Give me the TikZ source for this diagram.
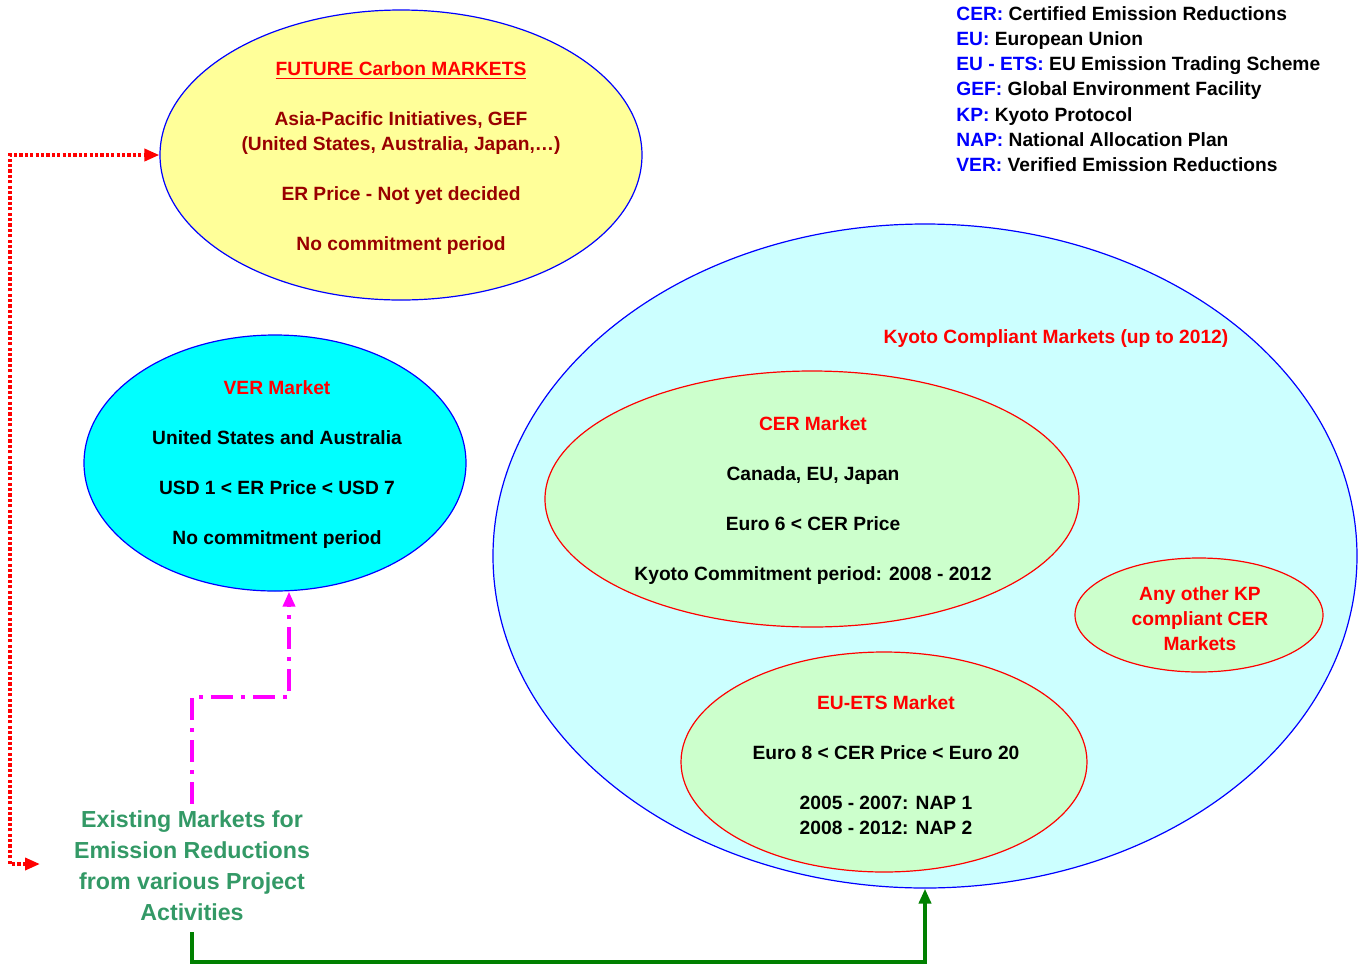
\documentclass[tikz,border=0pt]{standalone}
\usepackage{fontspec}
\setmainfont{Liberation Sans}
\usepackage{tikz}
\usetikzlibrary{shapes.geometric, arrows.meta, positioning}
\definecolor{futureyellow}{HTML}{FFFF99}
\definecolor{vercyan}{HTML}{00FFFF}
\definecolor{kyotocyan}{HTML}{CCFFFF}
\definecolor{cergreen}{HTML}{CCFFCC}
\definecolor{darkred}{HTML}{990000}
\definecolor{seagreen}{HTML}{339966}
\definecolor{arrowgreen}{HTML}{008000}
\definecolor{legendblue}{HTML}{0000FF}
\definecolor{linkmagenta}{HTML}{FF00FF}
\definecolor{linkred}{HTML}{FF0000}

\begin{document}
\begin{tikzpicture}[
  x=0.5pt, y=-0.5pt,
  market/.style={ellipse, draw=legendblue, line width=0.6pt, inner sep=0pt},
  submarket/.style={ellipse, draw=linkred, line width=0.6pt, fill=cergreen, inner sep=0pt},
  bodytext/.style={font=\fontsize{9.6}{12.5}\selectfont\bfseries, align=center},
  legendtext/.style={font=\fontsize{9.6}{12.5}\selectfont\bfseries, anchor=base west, inner sep=0pt},
  tip/.style={-{Triangle[length=7.5pt,width=6pt]}}
]
  \useasboundingbox (0,0) rectangle (1362,965);

  % Market ellipses
  \node[market, fill=futureyellow, minimum width=241pt, minimum height=145pt] (future) at (401,155) {};
  \node[market, fill=vercyan, minimum width=191pt, minimum height=128pt] (ver) at (275,463) {};
  \node[market, fill=kyotocyan, minimum width=432pt, minimum height=332pt] (kyoto) at (925,556) {};
  \node[submarket, minimum width=267pt, minimum height=128pt] (cer) at (812,499) {};
  \node[submarket, minimum width=124pt, minimum height=57pt] (otherkp) at (1199,615) {};
  \node[submarket, minimum width=203pt, minimum height=110pt] (euets) at (884,762) {};

  % Texts inside the ellipses
  \node[bodytext, text=darkred] (future-txt) at (401,158) {\textcolor{linkred}{\underline{FUTURE Carbon MARKETS}}\\[12.5pt]
    Asia-Pacific Initiatives, GEF\\ (United States, Australia, Japan,…)\\[12.5pt]
    ER Price - Not yet decided\\[12.5pt] No commitment period};
  \node[bodytext] (ver-txt) at (277,465) {\textcolor{linkred}{VER Market}\\[12.5pt]
    United States and Australia\\[12.5pt] USD 1 < ER Price < USD 7\\[12.5pt] No commitment period};
  \node[bodytext, text=linkred] (kyoto-txt) at (1056,339) {Kyoto Compliant Markets (up to 2012)};
  \node[bodytext] (cer-txt) at (813,501) {\textcolor{linkred}{CER Market}\\[12.5pt]
    Canada, EU, Japan\\[12.5pt] Euro 6 < CER Price\\[12.5pt] Kyoto Commitment period: 2008 - 2012};
  \node[bodytext, text=linkred] (otherkp-txt) at (1200,619) {Any other KP\\ compliant CER\\ Markets};
  \node[bodytext] (euets-txt) at (886,765) {\textcolor{linkred}{EU-ETS Market}\\[12.5pt]
    Euro 8 < CER Price < Euro 20\\[12.5pt] 2005 - 2007: NAP 1\\ 2008 - 2012: NAP 2};

  % Existing markets
  \node[font=\fontsize{11.6}{15.5}\selectfont\bfseries, text=seagreen, align=center] (existing) at (192,866)
    {Existing Markets for\\ Emission Reductions\\ from various Project\\ Activities};

  % Legend
  \node[legendtext] (leg-cer) at (956,20) {\textcolor{legendblue}{CER:} Certified Emission Reductions};
  \node[legendtext] (leg-eu) at (956,45) {\textcolor{legendblue}{EU:} European Union};
  \node[legendtext] (leg-ets) at (956,70) {\textcolor{legendblue}{EU - ETS:} EU Emission Trading Scheme};
  \node[legendtext] (leg-gef) at (956,95) {\textcolor{legendblue}{GEF:} Global Environment Facility};
  \node[legendtext] (leg-kp) at (956,121) {\textcolor{legendblue}{KP:} Kyoto Protocol};
  \node[legendtext] (leg-nap) at (956,146) {\textcolor{legendblue}{NAP:} National Allocation Plan};
  \node[legendtext] (leg-ver) at (956,171) {\textcolor{legendblue}{VER:} Verified Emission Reductions};

  % Connectors
  \coordinate (redstart) at (40,864);
  \coordinate (vbend) at (289,697);
  \coordinate (gbend) at (192,962);
  \draw[linkred, line width=1.8pt, dash pattern=on 1.6pt off 1.1pt, {Triangle[length=7.5pt,width=6pt]}-{Triangle[length=7.5pt,width=6pt]}]
    (redstart) -- (10,864) |- (future.west);
  \draw[linkmagenta, line width=1.8pt, dash pattern=on 11pt off 4pt on 2pt off 4pt, tip]
    (existing.north) |- (vbend) -- (vbend |- ver.south);
  \draw[arrowgreen, line width=2pt, tip]
    ([yshift=-2pt]existing.south) |- (gbend) -| (kyoto.south);
\end{tikzpicture}
\end{document}
